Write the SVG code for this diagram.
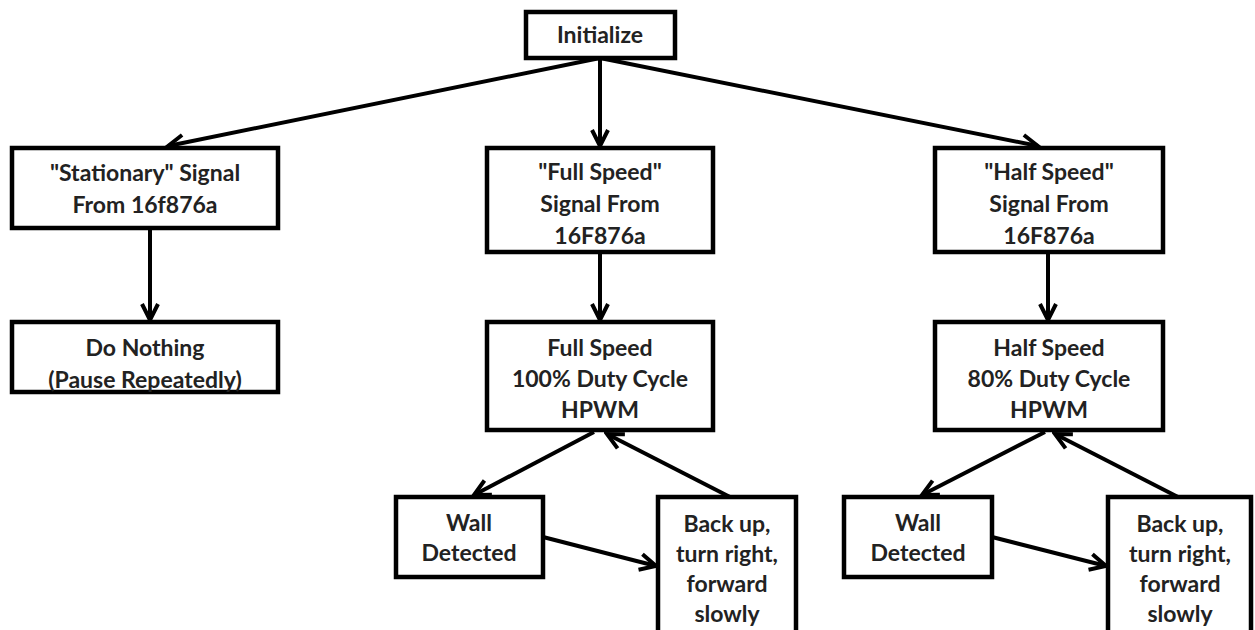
<svg xmlns="http://www.w3.org/2000/svg" width="1255" height="630" viewBox="0 0 1255 630">
<style>
.box{fill:#fff;stroke:#000;stroke-width:4.5}
.t{font-family:Lato,"Open Sans","Liberation Sans",sans-serif;font-weight:bold;font-size:23px;fill:#222;text-anchor:middle}
.c{fill:none;stroke:#000;stroke-width:4;marker-end:url(#ah)}
</style>
<defs>
<marker id="ah" markerUnits="userSpaceOnUse" markerWidth="22" markerHeight="22" viewBox="0 0 22 22" refX="19" refY="11" orient="auto">
<path d="M3,3 L19,11 L3,19" fill="none" stroke="#000" stroke-width="4" stroke-linejoin="miter"/>
</marker>
</defs>
<g id="connectors">
<line class="c" x1="600" y1="58" x2="168" y2="146"/>
<line class="c" x1="600" y1="58" x2="600" y2="146"/>
<line class="c" x1="600" y1="58" x2="1038" y2="146"/>
<line class="c" x1="150" y1="228" x2="150" y2="320"/>
<line class="c" x1="600" y1="252" x2="600" y2="320"/>
<line class="c" x1="1048" y1="252" x2="1048" y2="320"/>
<line class="c" x1="594" y1="432" x2="474" y2="495"/>
<line class="c" x1="730" y1="497" x2="607" y2="434"/>
<line class="c" x1="543" y1="537" x2="656" y2="566"/>
<line class="c" x1="1045" y1="432" x2="922" y2="495"/>
<line class="c" x1="1178" y1="497" x2="1055" y2="434"/>
<line class="c" x1="992" y1="537" x2="1106" y2="566"/>
</g>
<g id="n-init"><rect class="box" x="526" y="12" width="149" height="46"/><text class="t" x="600" y="43">Initialize</text></g>
<g id="n-stationary"><rect class="box" x="12" y="148" width="266" height="80"/><text class="t" x="145" y="181">"Stationary" Signal</text><text class="t" x="145" y="213">From 16f876a</text></g>
<g id="n-fullsig"><rect class="box" x="487" y="148" width="226" height="104"/><text class="t" x="600" y="180">"Full Speed"</text><text class="t" x="600" y="212">Signal From</text><text class="t" x="600" y="244">16F876a</text></g>
<g id="n-halfsig"><rect class="box" x="935" y="148" width="228" height="104"/><text class="t" x="1049" y="180">"Half Speed"</text><text class="t" x="1049" y="212">Signal From</text><text class="t" x="1049" y="244">16F876a</text></g>
<g id="n-nothing"><rect class="box" x="12" y="322" width="266" height="70"/><text class="t" x="145" y="356">Do Nothing</text><text class="t" x="145" y="388">(Pause Repeatedly)</text></g>
<g id="n-full"><rect class="box" x="487" y="322" width="226" height="108"/><text class="t" x="600" y="356">Full Speed</text><text class="t" x="600" y="387">100% Duty Cycle</text><text class="t" x="600" y="418">HPWM</text></g>
<g id="n-half"><rect class="box" x="935" y="322" width="228" height="108"/><text class="t" x="1049" y="356">Half Speed</text><text class="t" x="1049" y="387">80% Duty Cycle</text><text class="t" x="1049" y="418">HPWM</text></g>
<g id="n-wall1"><rect class="box" x="396" y="497" width="147" height="80"/><text class="t" x="469" y="531">Wall</text><text class="t" x="469" y="561">Detected</text></g>
<g id="n-back1"><rect class="box" x="658" y="497" width="138" height="145"/><text class="t" x="727" y="532">Back up,</text><text class="t" x="727" y="562">turn right,</text><text class="t" x="727" y="592">forward</text><text class="t" x="727" y="622">slowly</text></g>
<g id="n-wall2"><rect class="box" x="844" y="497" width="148" height="80"/><text class="t" x="918" y="531">Wall</text><text class="t" x="918" y="561">Detected</text></g>
<g id="n-back2"><rect class="box" x="1108" y="497" width="143" height="145"/><text class="t" x="1180" y="532">Back up,</text><text class="t" x="1180" y="562">turn right,</text><text class="t" x="1180" y="592">forward</text><text class="t" x="1180" y="622">slowly</text></g>
</svg>
